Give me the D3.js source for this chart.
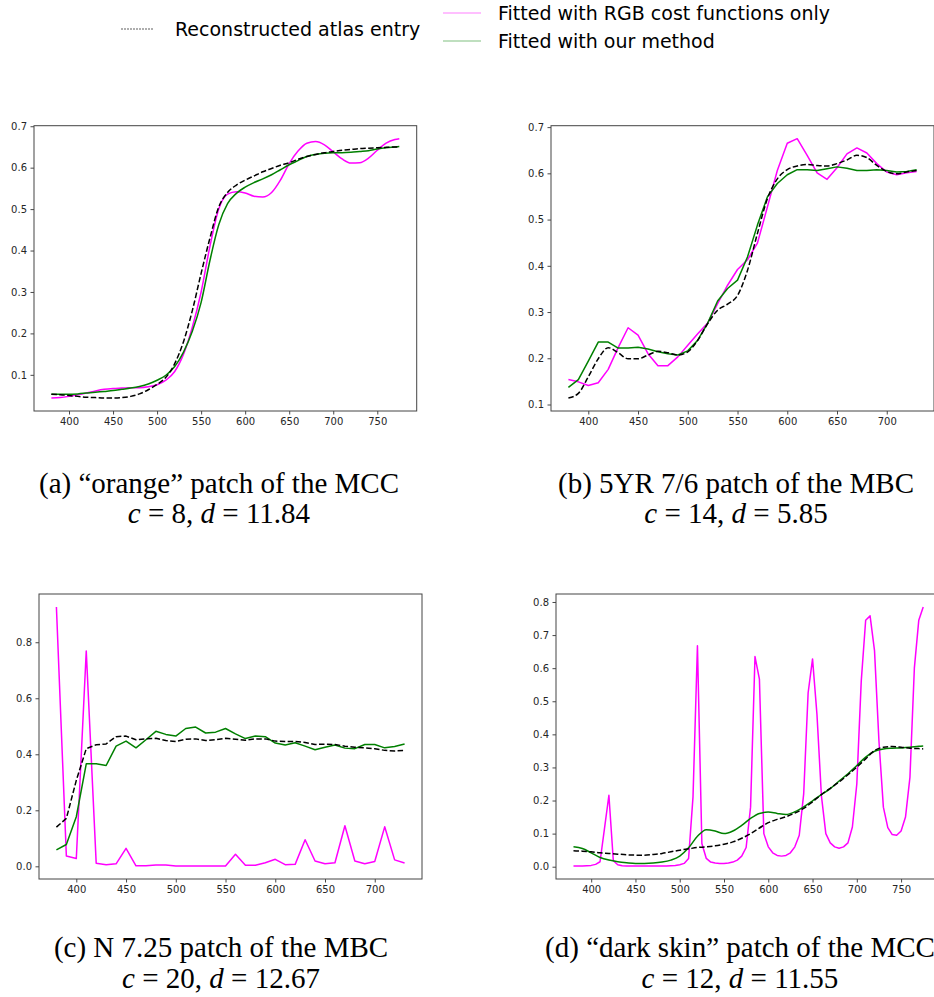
<!DOCTYPE html>
<html>
<head>
<meta charset="utf-8">
<script src="https://cdn.jsdelivr.net/npm/d3@7"></script>
<style>
  body { margin: 0; background: #fff; }
  svg { display: block; }
</style>
</head>
<body>
<svg id="fig" width="934" height="997"></svg>
<script>
// ---- legend entries ----
const seriesNames = [
  "Reconstructed atlas entry",
  "Fitted with RGB cost functions only",
  "Fitted with our method"
];

// ---- wavelength grids (nm) ----
const wave10to730 = [380,390,400,410,420,430,440,450,460,470,480,490,500,510,520,530,540,550,560,570,580,590,600,610,620,630,640,650,660,670,680,690,700,710,720,730];
const wave10to775 = [380,390,400,410,420,430,440,450,460,470,480,490,500,510,520,530,540,550,560,570,580,590,600,610,620,630,640,650,660,670,680,690,700,710,720,730,740,750,760,770,775];
const wave5to775 = [380,385,390,395,400,405,410,415,420,425,430,435,440,445,450,455,460,465,470,475,480,485,490,495,500,505,510,515,520,525,530,535,540,545,550,555,560,565,570,575,580,585,590,595,600,605,610,615,620,625,630,635,640,645,650,655,660,665,670,675,680,685,690,695,700,705,710,715,720,725,730,735,740,745,750,755,760,765,770,775];

// ---- (a) "orange" patch of the MCC ----
const atlasA = [0.053,0.052,0.050,0.048,0.046,0.045,0.044,0.044,0.045,0.048,0.054,0.064,0.077,0.094,0.127,0.180,0.255,0.345,0.430,0.505,0.540,0.558,0.570,0.580,0.590,0.598,0.606,0.612,0.620,0.627,0.632,0.636,0.639,0.642,0.644,0.646,0.647,0.648,0.649,0.650,0.650];
const rgbA   = [0.044,0.045,0.048,0.052,0.056,0.061,0.065,0.067,0.068,0.069,0.069,0.071,0.076,0.087,0.108,0.150,0.215,0.300,0.410,0.500,0.536,0.542,0.539,0.531,0.529,0.540,0.570,0.610,0.640,0.659,0.663,0.655,0.638,0.621,0.611,0.612,0.623,0.642,0.659,0.668,0.670];
const oursA  = [0.053,0.053,0.053,0.054,0.056,0.058,0.060,0.062,0.065,0.068,0.072,0.078,0.087,0.099,0.120,0.155,0.205,0.275,0.376,0.462,0.513,0.538,0.553,0.564,0.573,0.583,0.595,0.607,0.617,0.627,0.632,0.635,0.636,0.636,0.637,0.639,0.641,0.645,0.648,0.650,0.651];

// ---- (b) 5YR 7/6 patch of the MBC ----
const atlasB = [0.114,0.124,0.160,0.199,0.223,0.212,0.199,0.199,0.207,0.215,0.212,0.207,0.214,0.239,0.275,0.304,0.317,0.336,0.390,0.470,0.545,0.588,0.608,0.616,0.619,0.617,0.616,0.621,0.629,0.639,0.634,0.617,0.604,0.599,0.603,0.606];
const rgbB   = [0.154,0.149,0.141,0.147,0.176,0.223,0.266,0.250,0.210,0.184,0.184,0.203,0.228,0.253,0.276,0.318,0.358,0.392,0.413,0.449,0.527,0.606,0.665,0.675,0.639,0.601,0.587,0.612,0.642,0.655,0.644,0.621,0.603,0.597,0.601,0.604];
const oursB  = [0.137,0.154,0.194,0.235,0.235,0.222,0.222,0.224,0.220,0.214,0.210,0.207,0.216,0.239,0.276,0.324,0.351,0.369,0.419,0.488,0.549,0.578,0.597,0.608,0.608,0.606,0.610,0.614,0.611,0.606,0.606,0.608,0.606,0.603,0.604,0.608];

// ---- (c) N 7.25 patch of the MBC ----
const atlasC = [0.140,0.171,0.307,0.420,0.434,0.437,0.463,0.465,0.452,0.455,0.457,0.449,0.446,0.454,0.455,0.449,0.452,0.457,0.454,0.450,0.455,0.455,0.447,0.446,0.446,0.442,0.435,0.436,0.435,0.429,0.425,0.423,0.420,0.414,0.412,0.414];
const rgbC   = [0.926,0.037,0.028,0.769,0.011,0.006,0.009,0.064,0.002,0.002,0.005,0.005,0.001,0.001,0.001,0.001,0.001,0.001,0.043,0.004,0.004,0.013,0.025,0.006,0.007,0.095,0.019,0.009,0.013,0.145,0.019,0.009,0.017,0.141,0.023,0.012];
const oursC  = [0.059,0.078,0.177,0.366,0.366,0.360,0.429,0.447,0.423,0.452,0.482,0.471,0.465,0.492,0.497,0.476,0.479,0.492,0.473,0.456,0.465,0.463,0.440,0.433,0.441,0.429,0.416,0.425,0.433,0.422,0.420,0.435,0.435,0.423,0.428,0.437];

// ---- (d) "dark skin" patch of the MCC ----
const atlasD = [0.048,0.047,0.045,0.042,0.040,0.038,0.036,0.035,0.035,0.037,0.040,0.045,0.050,0.054,0.058,0.060,0.063,0.068,0.075,0.086,0.100,0.117,0.133,0.143,0.151,0.162,0.176,0.196,0.218,0.237,0.256,0.278,0.301,0.326,0.351,0.361,0.363,0.361,0.358,0.357,0.356];
const rgbD   = [0.002,0.002,0.002,0.003,0.004,0.007,0.015,0.115,0.216,0.018,0.006,0.003,0.002,0.002,0.002,0.002,0.002,0.002,0.002,0.002,0.002,0.002,0.003,0.004,0.006,0.010,0.025,0.211,0.668,0.070,0.025,0.014,0.011,0.010,0.010,0.011,0.014,0.020,0.032,0.058,0.180,0.635,0.567,0.100,0.060,0.042,0.034,0.032,0.034,0.042,0.060,0.095,0.220,0.525,0.628,0.460,0.215,0.100,0.072,0.060,0.056,0.060,0.072,0.120,0.250,0.560,0.745,0.758,0.653,0.380,0.180,0.118,0.097,0.095,0.108,0.150,0.270,0.600,0.745,0.785];
const oursD  = [0.060,0.055,0.042,0.028,0.020,0.015,0.012,0.010,0.010,0.011,0.014,0.020,0.032,0.057,0.092,0.112,0.108,0.100,0.108,0.125,0.146,0.161,0.165,0.161,0.158,0.166,0.181,0.199,0.218,0.236,0.259,0.281,0.306,0.331,0.349,0.356,0.358,0.359,0.361,0.364,0.365];

// ---- tick labels ----
const xTicksA = [400,450,500,550,600,650,700,750];
const xTicksB = [400,450,500,550,600,650,700];
const yTicksAB = [0.1,0.2,0.3,0.4,0.5,0.6,0.7];
const yTicksC = [0.0,0.2,0.4,0.6,0.8];
const yTicksD = [0.0,0.1,0.2,0.3,0.4,0.5,0.6,0.7,0.8];

// ---- captions ----
const captions = [
  { title: "(a) \u201corange\u201d patch of the MCC", c: "8", d: "11.84" },
  { title: "(b) 5YR 7/6 patch of the MBC", c: "14", d: "5.85" },
  { title: "(c) N 7.25 patch of the MBC", c: "20", d: "12.67" },
  { title: "(d) \u201cdark skin\u201d patch of the MCC", c: "12", d: "11.55" }
];

const COLORS = { atlas: "#000000", rgb: "#ff00ff", ours: "#008000" };
const svg = d3.select("#fig");
svg.append("rect").attr("width", 934).attr("height", 997).attr("fill", "#fff");

// matplotlib-style autoscale: 5% margin on each side of the data range
function padded(lo, hi) {
  const m = (hi - lo) * 0.05;
  return [lo - m, hi + m];
}

function drawPanel(p) {
  const g = svg.append("g");
  const allY = p.series.flatMap(s => s.values);
  const allX = p.series.flatMap(s => s.wave);
  const x = d3.scaleLinear().domain(padded(d3.min(allX), d3.max(allX))).range([p.left, p.right]);
  const y = d3.scaleLinear().domain(padded(d3.min(allY), d3.max(allY))).range([p.bottom, p.top]);

  // curves
  p.series.forEach(s => {
    const line = d3.line()
      .x((d, i) => x(s.wave[i]))
      .y(d => y(d))
      .curve(s.smooth ? d3.curveMonotoneX : d3.curveLinear);
    g.append("path")
      .attr("d", line(s.values))
      .attr("fill", "none")
      .attr("stroke", COLORS[s.key])
      .attr("stroke-width", 1.5)
      .attr("stroke-linejoin", "round")
      .attr("stroke-dasharray", s.key === "atlas" ? "5.5,2.4" : null);
  });

  // axes
  const xAxis = d3.axisBottom(x).tickValues(p.xTicks).tickSize(3.5).tickPadding(3.5).tickFormat(d3.format("d"));
  const yAxis = d3.axisLeft(y).tickValues(p.yTicks).tickSize(3.5).tickPadding(3.5).tickFormat(d3.format(".1f"));
  const gx = g.append("g").attr("transform", `translate(0,${p.bottom})`).call(xAxis);
  const gy = g.append("g").attr("transform", `translate(${p.left},0)`).call(yAxis);
  [gx, gy].forEach(a => {
    a.select(".domain").remove();
    a.selectAll("line").attr("stroke", "#333").attr("stroke-width", 0.9);
    a.selectAll("text").attr("fill", "#262626")
      .style("font-family", "'DejaVu Sans', sans-serif").style("font-size", "10px");
  });

  // frame
  g.append("rect")
    .attr("x", p.left).attr("y", p.top)
    .attr("width", p.right - p.left).attr("height", p.bottom - p.top)
    .attr("fill", "none").attr("stroke", "#444").attr("stroke-width", 1);
}

drawPanel({
  left: 34, right: 416.7, top: 125.7, bottom: 411,
  xTicks: xTicksA, yTicks: yTicksAB,
  series: [
    { key: "rgb", wave: wave10to775, values: rgbA, smooth: true },
    { key: "ours", wave: wave10to775, values: oursA, smooth: true },
    { key: "atlas", wave: wave10to775, values: atlasA, smooth: true }
  ]
});
drawPanel({
  left: 551, right: 934, top: 125.7, bottom: 411,
  xTicks: xTicksB, yTicks: yTicksAB,
  series: [
    { key: "rgb", wave: wave10to730, values: rgbB },
    { key: "ours", wave: wave10to730, values: oursB },
    { key: "atlas", wave: wave10to730, values: atlasB, smooth: true }
  ]
});
drawPanel({
  left: 39, right: 422, top: 594, bottom: 879,
  xTicks: xTicksB, yTicks: yTicksC,
  series: [
    { key: "rgb", wave: wave10to730, values: rgbC },
    { key: "ours", wave: wave10to730, values: oursC },
    { key: "atlas", wave: wave10to730, values: atlasC }
  ]
});
drawPanel({
  left: 556, right: 940.7, top: 594, bottom: 879,
  xTicks: xTicksA, yTicks: yTicksD,
  series: [
    { key: "rgb", wave: wave5to775, values: rgbD },
    { key: "ours", wave: wave10to775, values: oursD, smooth: true },
    { key: "atlas", wave: wave10to775, values: atlasD, smooth: true }
  ]
});

// ---- captions under each panel ----
const capPos = [
  { cx: 219, y1: 493, y2: 523 },
  { cx: 736, y1: 493, y2: 523 },
  { cx: 221, y1: 957, y2: 988 },
  { cx: 740, y1: 957, y2: 988 }
];
captions.forEach((c, i) => {
  const pos = capPos[i];
  const font = "'Liberation Serif', 'Times New Roman', serif";
  svg.append("text")
    .attr("x", pos.cx).attr("y", pos.y1)
    .attr("text-anchor", "middle")
    .style("font-family", font).style("font-size", "29px").attr("fill", "#000")
    .text(c.title);
  const t = svg.append("text")
    .attr("x", pos.cx).attr("y", pos.y2)
    .attr("text-anchor", "middle")
    .style("font-family", font).style("font-size", "29px").attr("fill", "#000");
  t.append("tspan").style("font-style", "italic").text("c");
  t.append("tspan").text(` = ${c.c}, `);
  t.append("tspan").style("font-style", "italic").text("d");
  t.append("tspan").text(` = ${c.d}`);
});

// ---- figure legend ----
const legFont = "'DejaVu Sans', sans-serif";
const leg = svg.append("g");
const legendItems = [
  { key: "atlas", name: seriesNames[0], x0: 121, x1: 154, ty: 29, tx: 175 },
  { key: "rgb", name: seriesNames[1], x0: 443, x1: 481, ty: 13, tx: 498 },
  { key: "ours", name: seriesNames[2], x0: 443, x1: 481, ty: 41, tx: 498 }
];
legendItems.forEach(it => {
  leg.append("line")
    .attr("x1", it.x0).attr("x2", it.x1).attr("y1", it.ty).attr("y2", it.ty)
    .attr("stroke", COLORS[it.key])
    .attr("stroke-width", it.key === "atlas" ? 0.8 : 1.2)
    .attr("stroke-opacity", it.key === "atlas" ? 0.8 : 0.5)
    .attr("stroke-dasharray", it.key === "atlas" ? "2,1" : null);
  leg.append("text")
    .attr("x", it.tx).attr("y", it.ty + 7)
    .style("font-family", legFont).style("font-size", "19px").attr("fill", "#000")
    .text(it.name);
});
</script>
</body>
</html>
